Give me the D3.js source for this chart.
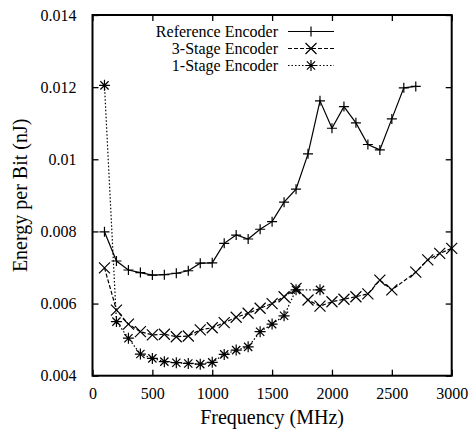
<!DOCTYPE html>
<html><head><meta charset="utf-8">
<script src="https://cdn.jsdelivr.net/npm/d3@7"></script>
<style>
svg text { font-family: "Liberation Serif", Tinos, "Times New Roman", Times, monospace !important; }
</style>
</head><body style="margin:0"><svg id="c" width="472" height="430" font-family="Liberation Serif"></svg>
<script>
const refX = [100,200,300,400,500,600,700,800,900,1000,1100,1200,1300,1400,1500,1600,1700,1800,1900,2000,2100,2200,2300,2400,2500,2600,2700];
const refY = [0.00799,0.00718,0.00693,0.00686,0.00679,0.0068,0.00684,0.00691,0.00712,0.00713,0.00767,0.0079,0.00779,0.00806,0.00827,0.00881,0.00917,0.01015,0.01162,0.01086,0.01146,0.01101,0.01041,0.01026,0.01112,0.01198,0.01202];
const s3X = [100,200,300,400,500,600,700,800,900,1000,1100,1200,1300,1400,1500,1600,1700,1800,1900,2000,2100,2200,2300,2400,2500,2700,2800,2900,3000];
const s3Y = [0.00699,0.00582,0.00543,0.00522,0.00513,0.00515,0.00508,0.0051,0.00527,0.00533,0.00547,0.00562,0.00573,0.00587,0.006,0.00619,0.00642,0.0061,0.00593,0.00605,0.00612,0.00619,0.00627,0.00665,0.00638,0.00687,0.00721,0.00739,0.00753];
const s1X = [100,200,300,400,500,600,700,800,900,1000,1100,1200,1300,1400,1500,1600,1700,1900];
const s1Y = [0.01205,0.0055,0.00504,0.0046,0.00448,0.00439,0.00436,0.00434,0.00432,0.00437,0.00459,0.00471,0.0048,0.00522,0.00543,0.00566,0.00638,0.00638];
const xTicks = [0,500,1000,1500,2000,2500,3000];
const yTicks = [0.004,0.006,0.008,0.01,0.012,0.014];
const yTickLabels = ["0.004","0.006","0.008","0.01","0.012","0.014"];
const seriesNames = ["Reference Encoder","3-Stage Encoder","1-Stage Encoder"];

const svg = d3.select("#c");
const L=92.5,R=451.7,T=15,B=375.7;
const x = d3.scaleLinear().domain([0,3000]).range([L,R]);
const y = d3.scaleLinear().domain([0.004,0.014]).range([B,T]);

function plus(g,cx,cy){const s=5;g.append("path").attr("d",`M${cx-s},${cy}H${cx+s}M${cx},${cy-s}V${cy+s}`).attr("stroke","#000").attr("stroke-width",1.2).attr("fill","none");}
function cross(g,cx,cy){const s=5.5;g.append("path").attr("d",`M${cx-s},${cy-s}L${cx+s},${cy+s}M${cx-s},${cy+s}L${cx+s},${cy-s}`).attr("stroke","#000").attr("stroke-width",1.2).attr("fill","none");}
function star(g,cx,cy){const s=5.5;g.append("path").attr("d",`M${cx-s},${cy}H${cx+s}M${cx},${cy-s}V${cy+s}M${cx-s*0.75},${cy-s*0.75}L${cx+s*0.75},${cy+s*0.75}M${cx-s*0.75},${cy+s*0.75}L${cx+s*0.75},${cy-s*0.75}`).attr("stroke","#000").attr("stroke-width",1.2).attr("fill","none");}

const series = [
  {xs:refX, ys:refY, dash:null, mk:plus},
  {xs:s3X, ys:s3Y, dash:"4,2", mk:cross},
  {xs:s1X, ys:s1Y, dash:"1.5,2", mk:star}
];

const gx = svg.append("g").attr("transform",`translate(0,${B})`)
  .call(d3.axisBottom(x).tickValues(xTicks).tickSize(-6).tickPadding(12).tickFormat(d3.format("d")));
const gxt = svg.append("g").attr("transform",`translate(0,${T})`)
  .call(d3.axisTop(x).tickValues(xTicks).tickSize(-6).tickFormat(""));
const gy = svg.append("g").attr("transform",`translate(${L},0)`)
  .call(d3.axisLeft(y).tickValues(yTicks).tickSize(-6).tickPadding(16).tickFormat((d,i)=>yTickLabels[i]));
const gyr = svg.append("g").attr("transform",`translate(${R},0)`)
  .call(d3.axisRight(y).tickValues(yTicks).tickSize(-6).tickFormat(""));
[gx,gxt,gy,gyr].forEach(g=>{
  g.attr("font-family",null).attr("font-size",16);
  g.select(".domain").remove();
  g.selectAll(".tick line").attr("stroke","#000").attr("stroke-width",1.3);
  g.selectAll("text").attr("font-size",16).attr("fill","#000");
});
svg.append("rect").attr("x",L).attr("y",T).attr("width",R-L).attr("height",B-T)
  .attr("fill","none").attr("stroke","#000").attr("stroke-width",2);

svg.append("text").attr("x",(L+R)/2).attr("y",424).attr("text-anchor","middle")
  .attr("font-size",20).text("Frequency (MHz)");
svg.append("text").attr("transform",`translate(27,${(T+B)/2}) rotate(-90)`).attr("text-anchor","middle")
  .attr("font-size",20).text("Energy per Bit (nJ)");

const line = d3.line().x(d=>x(d[0])).y(d=>y(d[1]));
series.forEach(s=>{
  const pts = s.xs.map((v,i)=>[v,s.ys[i]]);
  const g = svg.append("g");
  g.append("path").attr("d",line(pts)).attr("fill","none").attr("stroke","#000")
    .attr("stroke-width",1.2).attr("stroke-dasharray",s.dash);
  pts.forEach(p=>s.mk(g,x(p[0]),y(p[1])));
});
const legY = [31.5,48.5,65.5];
series.forEach((s,i)=>{
  const g = svg.append("g");
  g.append("text").attr("x",278).attr("y",legY[i]+5.5).attr("text-anchor","end")
    .attr("font-size",16).text(seriesNames[i]);
  g.append("line").attr("x1",288).attr("x2",334).attr("y1",legY[i]).attr("y2",legY[i])
    .attr("stroke","#000").attr("stroke-width",1.2).attr("stroke-dasharray",s.dash);
  s.mk(g,311,legY[i]);
});
</script></body></html>
